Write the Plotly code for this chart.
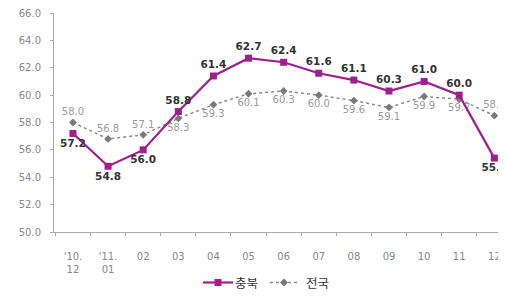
import plotly.graph_objects as go

categories = ["'10.<br>12", "'11.<br>01", "02", "03", "04", "05", "06", "07", "08", "09", "10", "11", "12"]
chungbuk = [57.2, 54.8, 56.0, 58.8, 61.4, 62.7, 62.4, 61.6, 61.1, 60.3, 61.0, 60.0, 55.4]
national = [58.0, 56.8, 57.1, 58.3, 59.3, 60.1, 60.3, 60.0, 59.6, 59.1, 59.9, 59.7, 58.5]
y_ticks = [50, 52, 54, 56, 58, 60, 62, 64, 66]
series_names = ["충북", "전국"]

cb_pos = ["bottom center", "bottom center", "bottom center", "top center", "top center", "top center",
          "top center", "top center", "top center", "top center", "top center", "top center", "bottom center"]
nat_pos = ["top center", "top center", "top center", "bottom center", "bottom center", "bottom center",
           "bottom center", "bottom center", "bottom center", "bottom center", "bottom center", "bottom center", "top center"]

PURPLE = "#9e1f8e"
GRAY_LINE = "#8c8c8c"
GRAY_MARK = "#7a7a7a"

W, H = 506, 284
ML, MR, MT, MB = 46, 0, 5, 60
PW = W - ML - MR
PH = H - MT - MB

fig = go.Figure()
fig.add_trace(go.Scatter(
    x=categories, y=national, name=series_names[1], mode="lines+markers+text",
    line=dict(color=GRAY_LINE, width=1.5, dash="dot"),
    marker=dict(symbol="diamond", size=6, color=GRAY_MARK),
    text=[f"{v:.1f}" for v in national], textposition=nat_pos,
    textfont=dict(size=10, color="#9a9a9a", family="DejaVu Sans"),
    cliponaxis=False,
))
fig.add_trace(go.Scatter(
    x=categories, y=chungbuk, name=series_names[0], mode="lines+markers+text",
    line=dict(color=PURPLE, width=2.2),
    marker=dict(symbol="square", size=7, color=PURPLE),
    text=[f"<b>{v:.1f}</b>" for v in chungbuk], textposition=cb_pos,
    textfont=dict(size=10.5, color="#333333", family="DejaVu Sans"),
    cliponaxis=False,
))

# manual legend (paper coords computed from pixel positions)
def px(xpix):
    return (xpix - ML) / PW

def py(ypix):
    return (H - MB - ypix) / PH

leg_y = py(274.5)
shapes = [
    dict(type="line", xref="paper", yref="paper", x0=px(195), x1=px(225), y0=leg_y, y1=leg_y,
         line=dict(color=PURPLE, width=2.2)),
    dict(type="rect", xref="paper", yref="paper", xsizemode="pixel", ysizemode="pixel",
         xanchor=px(210), yanchor=leg_y, x0=-3.5, x1=3.5, y0=-3.5, y1=3.5,
         fillcolor=PURPLE, line=dict(width=0)),
    dict(type="line", xref="paper", yref="paper", x0=px(262), x1=px(290), y0=leg_y, y1=leg_y,
         line=dict(color=GRAY_LINE, width=1.5, dash="dot")),
    dict(type="path", xref="paper", yref="paper", xsizemode="pixel", ysizemode="pixel",
         xanchor=px(276), yanchor=leg_y, path="M 0,4 L 4,0 L 0,-4 L -4,0 Z",
         fillcolor=GRAY_MARK, line=dict(width=0)),
]
annotations = [
    dict(text=series_names[0], xref="paper", yref="paper", x=px(226), y=leg_y, xanchor="left",
         yanchor="middle", showarrow=False, borderpad=0,
         font=dict(size=12.5, color="#333333", family="Noto Sans CJK KR")),
    dict(text=series_names[1], xref="paper", yref="paper", x=px(297), y=leg_y, xanchor="left",
         yanchor="middle", showarrow=False, borderpad=0,
         font=dict(size=12.5, color="#333333", family="Noto Sans CJK KR")),
]

fig.update_layout(
    width=W, height=H,
    margin=dict(l=ML, r=MR, t=MT, b=MB),
    paper_bgcolor="white", plot_bgcolor="white",
    showlegend=False,
    shapes=shapes, annotations=annotations,
    font=dict(family="DejaVu Sans", color="#888888"),
)
fig.update_xaxes(
    type="category", range=[-0.54, 12.56], tickson="boundaries",
    showgrid=False, showline=True, linecolor="#aaaaaa", linewidth=1,
    ticks="outside", ticklen=3, tickcolor="#aaaaaa",
    ticklabelstandoff=15, ticklabeloverflow="allow",
    tickfont=dict(size=10, color="#888888"), zeroline=False, automargin=False,
)
fig.update_yaxes(
    range=[50, 66], tickvals=y_ticks, ticktext=[f"{v:.1f}" for v in y_ticks],
    showgrid=False, showline=True, linecolor="#aaaaaa", linewidth=1,
    ticks="outside", ticklen=3, tickcolor="#aaaaaa", ticklabelstandoff=7,
    ticklabeloverflow="allow",
    tickfont=dict(size=10, color="#888888"), zeroline=False, automargin=False,
)

fig.write_html("out.html")
